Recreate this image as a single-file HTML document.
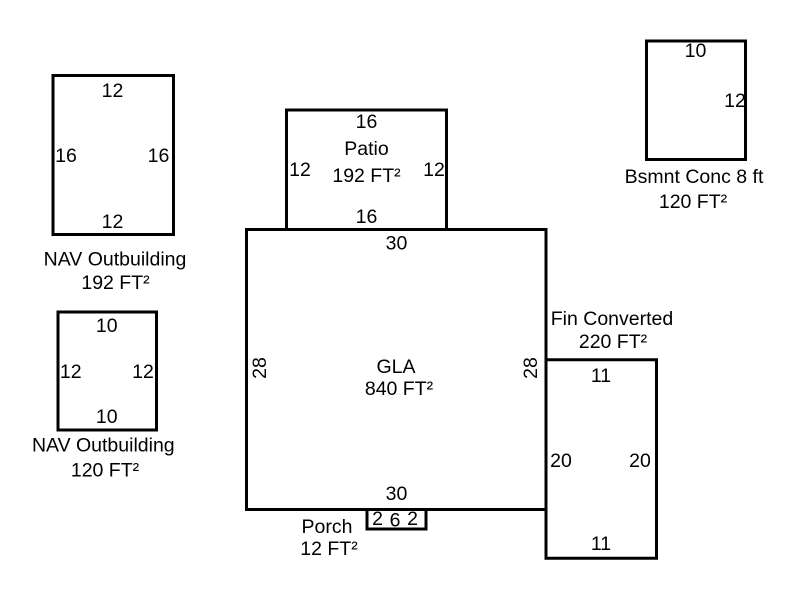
<!DOCTYPE html>
<html>
<head>
<meta charset="utf-8">
<style>
  html, body { margin: 0; padding: 0; background: #ffffff; }
  svg { display: block; }
  text { font-family: "Liberation Sans", Arial, sans-serif; font-size: 19.5px; fill: #000; text-anchor: middle; }
</style>
</head>
<body>
<svg width="800" height="600" viewBox="0 0 800 600" xmlns="http://www.w3.org/2000/svg">
  <rect x="0" y="0" width="800" height="600" fill="#fff"/>
  <g fill="none" stroke="#000" stroke-width="3" stroke-linejoin="miter" stroke-linecap="square">
    <rect x="53" y="75.5" width="120.5" height="159"/>
    <rect x="58" y="312" width="98.5" height="118"/>
    <rect x="646.5" y="41" width="99" height="118.5"/>
    <polyline points="286.5,229.5 286.5,110 446.5,110 446.5,229.5"/>
    <rect x="246.5" y="229.5" width="299.5" height="280"/>
    <polyline points="546,359.7 656.5,359.7 656.5,558.3 546,558.3 546,509.5"/>
    <polyline points="367,509.5 367,529 426,529 426,509.5"/>
  </g>

  <!-- Patio -->
  <text x="366.5" y="128">16</text>
  <text x="366.5" y="155">Patio</text>
  <text x="366.5" y="182">192 FT²</text>
  <text x="300" y="176">12</text>
  <text x="434" y="176">12</text>
  <text x="366.5" y="223">16</text>

  <!-- GLA -->
  <text x="396.5" y="249.5">30</text>
  <text x="396" y="373">GLA</text>
  <text x="399" y="395">840 FT²</text>
  <text x="396.5" y="500">30</text>
  <text transform="translate(259,368) rotate(-90)" x="0" y="6.8">28</text>
  <text transform="translate(530,368) rotate(-90)" x="0" y="6.8">28</text>

  <!-- Porch -->
  <text x="327" y="533">Porch</text>
  <text x="329" y="555">12 FT²</text>
  <text x="377.5" y="525">2</text>
  <text x="395" y="526.5">6</text>
  <text x="412.5" y="525">2</text>

  <!-- Fin Converted -->
  <text x="612" y="325">Fin Converted</text>
  <text x="613" y="348">220 FT²</text>
  <text x="601" y="382">11</text>
  <text x="561" y="467">20</text>
  <text x="640" y="467">20</text>
  <text x="601" y="550">11</text>

  <!-- NAV Outbuilding 192 -->
  <text x="112.5" y="97">12</text>
  <text x="66" y="162">16</text>
  <text x="158.5" y="162">16</text>
  <text x="112.5" y="228">12</text>
  <text x="115" y="265.5">NAV Outbuilding</text>
  <text x="115.5" y="289">192 FT²</text>

  <!-- NAV Outbuilding 120 -->
  <text x="106.7" y="332">10</text>
  <text x="70.7" y="378">12</text>
  <text x="143" y="378">12</text>
  <text x="106.7" y="423">10</text>
  <text x="103.3" y="451.7">NAV Outbuilding</text>
  <text x="105" y="476.7">120 FT²</text>

  <!-- Bsmnt -->
  <text x="695.5" y="57">10</text>
  <text x="735" y="107">12</text>
  <text x="694" y="183">Bsmnt Conc 8 ft</text>
  <text x="693" y="208">120 FT²</text>
</svg>
</body>
</html>
